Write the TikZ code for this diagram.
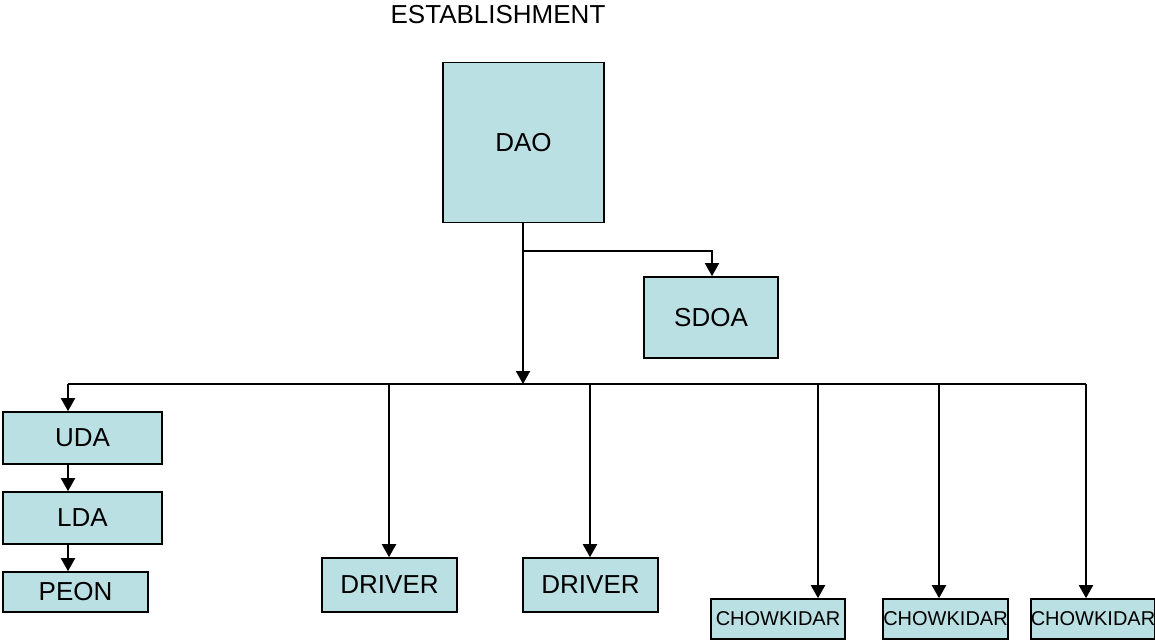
\documentclass[tikz,border=0pt]{standalone}
\usepackage{fontspec}
\setmainfont{Liberation Sans}
\usetikzlibrary{arrows.meta}
\definecolor{boxfill}{RGB}{187,224,227}
\begin{document}
\begin{tikzpicture}[x=1pt,y=-1pt,
  box/.style={draw=black,fill=boxfill,line width=1.6pt,inner sep=0pt,
    font=\fontsize{26}{30}\selectfont},
  smallbox/.style={box,font=\fontsize{20}{24}\selectfont},
  tip/.style={-{Triangle[width=14pt,length=13pt]}},
  conn/.style={line width=2pt,tip},
  plain/.style={line width=1.6pt}]
\useasboundingbox (0,0) rectangle (1155,640);
\node[font=\fontsize{26}{30}\selectfont] (title) at (498,15) {ESTABLISHMENT};
\node[box,minimum width=161pt,minimum height=160pt] (dao) at (523.5,142.5) {DAO};
\node[box,minimum width=134pt,minimum height=81pt] (sdoa) at (711,317.5) {SDOA};
\node[box,minimum width=159pt,minimum height=52pt] (uda) at (82.5,438) {UDA};
\node[box,minimum width=159pt,minimum height=52pt] (lda) at (82.5,518) {LDA};
\node[box,minimum width=145pt,minimum height=40pt] (peon) at (75.5,592) {PEON};
\node[box,minimum width=135pt,minimum height=54pt] (drv1) at (389.5,585) {DRIVER};
\node[box,minimum width=135pt,minimum height=54pt] (drv2) at (590.5,585) {DRIVER};
\node[smallbox,minimum width=134pt,minimum height=40pt] (ch1) at (778,619) {CHOWKIDAR};
\node[smallbox,minimum width=121pt,minimum height=40pt] (ch2) at (945.5,619) {CHOWKIDAR};
\node[smallbox,minimum width=122pt,minimum height=40pt] (ch3) at (1093,619) {CHOWKIDAR};
\coordinate (j1) at (523,251);
\coordinate (bc) at (523,384);
\coordinate (busL) at (68,384);
\coordinate (busR) at (1086,384);
\coordinate (b1) at (389,384);
\coordinate (b2) at (590,384);
\coordinate (b3) at (818,384);
\coordinate (b4) at (939,384);
% connectors
\draw[conn] (dao.south -| bc) -- (bc);
\draw[plain,tip] (j1) -| (sdoa.north -| 712,0);
\draw[plain] (busL) -- (busR);
\draw[conn] (busL) -- (busL |- uda.north);
\draw[conn] (uda.south -| busL) -- (lda.north -| busL);
\draw[conn] (lda.south -| busL) -- (peon.north -| busL);
\draw[conn] (b1) -- (b1 |- drv1.north);
\draw[conn] (b2) -- (b2 |- drv2.north);
\draw[conn] (b3) -- (b3 |- ch1.north);
\draw[conn] (b4) -- (b4 |- ch2.north);
\draw[conn] (busR) -- (busR |- ch3.north);
\end{tikzpicture}
\end{document}
